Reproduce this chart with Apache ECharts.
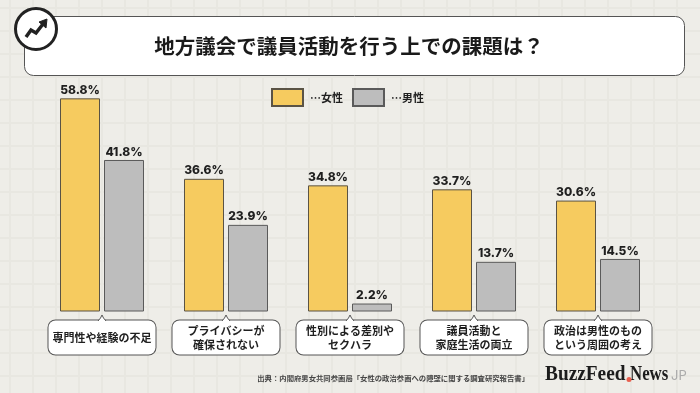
<!DOCTYPE html>
<html lang="ja">
<head>
  <meta charset="UTF-8">
  <title>地方議会で議員活動を行う上での課題は？</title>
  <script src="https://cdn.jsdelivr.net/npm/echarts@6/dist/echarts.min.js"></script>
  <style>
    html,body{margin:0;padding:0;background:#eeede8}
    #main{width:700px;height:393px}
  </style>
</head>
<body>
<div id="main"></div>
<script>
  var categories = ['専門性や経験の不足','プライバシーが\n確保されない','性別による差別や\nセクハラ','議員活動と\n家庭生活の両立','政治は男性のもの\nという周囲の考え'];
  var women = [58.8,36.6,34.8,33.7,30.6];
  var men = [41.8,23.9,2.2,13.7,14.5];
  var legendNames = ['…女性','…男性'];

  var font = '"Noto Sans CJK JP"';
  var ink = '#1f1f1f';
  var main = echarts.init(document.querySelector('#main'));

  function barLabel(){
    return {show:true,position:'top',distance:2,formatter:'{c}%',fontFamily:'Inter',fontWeight:800,fontSize:12,color:ink};
  }
  function labelStyle(lineHeight){
    return {fontFamily:font,fontWeight:'bold',fontSize:11,lineHeight:lineHeight,color:ink,align:'center'};
  }

  main.setOption({
    animation:false,
    backgroundColor:'transparent',
    grid:{left:40,right:40,top:94,bottom:81.5},
    xAxis:{
      type:'category',
      data:categories,
      axisLine:{show:false},
      axisTick:{show:false},
      axisLabel:{
        interval:0,margin:9,
        width:107,height:31,padding:[3,0,0,0],align:'center',verticalAlign:'top',overflow:'none',
        backgroundColor:'#fff',borderColor:'#555',borderWidth:1,borderRadius:7,
        formatter:function(value){
          var lines = value.split('\n');
          var key = lines.length>1 ? 'two' : 'one';
          return lines.map(function(t){return '{'+key+'|'+t+'}'}).join('\n');
        },
        rich:{one:labelStyle(29),two:labelStyle(14.5)}
      }
    },
    yAxis:{type:'value',min:0,max:60,show:false},
    series:[
      {name:legendNames[0],type:'bar',data:women,barWidth:40,barGap:'10%',
        itemStyle:{color:'#f6cb5f',borderColor:'#5a5345',borderWidth:1},label:barLabel()},
      {name:legendNames[1],type:'bar',data:men,barWidth:40,
        itemStyle:{color:'#bdbdbd',borderColor:'#5a5a5a',borderWidth:1},label:barLabel()}
    ],
    legend:{
      left:271,top:88,padding:0,icon:'rect',itemWidth:31,itemHeight:17,itemGap:9,
      data:legendNames,
      textStyle:{fontFamily:font,fontWeight:'bold',fontSize:11,color:ink,padding:[0,0,0,2]}
    }
  });

  // faint paper grid behind everything
  var paper = [];
  for(var x=10;x<700;x+=23){
    paper.push({type:'line',z:-10,silent:true,shape:{x1:x,y1:0,x2:x,y2:393},style:{stroke:'#e8e7e1',lineWidth:2}});
  }
  for(var y=8;y<393;y+=23){
    paper.push({type:'line',z:-10,silent:true,shape:{x1:0,y1:y,x2:700,y2:y},style:{stroke:'#e8e7e1',lineWidth:2}});
  }

  // little points on the label boxes, placed from the category scale
  var tips = categories.map(function(c,i){
    var px = main.convertToPixel({xAxisIndex:0},i);
    return {type:'polyline',z:100,silent:true,shape:{points:[[px-4,321],[px-1.5,318],[px,315],[px+1.5,318],[px+4,321]]},
      style:{fill:'#fff',stroke:'#555',lineWidth:1}};
  });

  var decor = [
    {type:'rect',z:1,shape:{x:24.5,y:16.5,width:660,height:59,r:9},style:{fill:'#fff',stroke:'#555',lineWidth:1}},
    {type:'text',z:2,style:{x:349,y:46,text:'地方議会で議員活動を行う上での課題は？',align:'center',verticalAlign:'middle',
      font:'bold 20.5px '+font,fill:'#1a1a1a'}},
    {type:'circle',z:3,shape:{cx:36,cy:29,r:20.5},style:{fill:'#fff',stroke:'#222',lineWidth:3}},
    {type:'polyline',z:4,shape:{points:[[26,37],[31,30],[36,33],[43,24]]},style:{stroke:'#222',lineWidth:3.5,fill:'none'}},
    {type:'polygon',z:4,shape:{points:[[39,22],[47,19],[46,28]]},style:{fill:'#222',stroke:'#222',lineWidth:1}},
    {type:'text',z:2,style:{x:529,y:378,text:'出典：内閣府男女共同参画局「女性の政治参画への障壁に関する調査研究報告書」',align:'right',verticalAlign:'middle',
      font:'bold 7.35px '+font,fill:'#444'}},
    {type:'text',z:2,x:545,y:375,scaleX:0.92,style:{x:0,y:0,text:'BuzzFeed',align:'left',verticalAlign:'middle',
      font:'bold 21px "Liberation Serif"',fill:'#1c1c1c'}},
    {type:'text',z:2,x:630,y:375,scaleX:0.8,style:{x:0,y:0,text:'News',align:'left',verticalAlign:'middle',
      font:'bold 21px "Liberation Serif"',fill:'#1c1c1c'}},
    {type:'circle',z:3,shape:{cx:629,cy:379.5,r:2.5},style:{fill:'#e8604f'}},
    {type:'text',z:2,style:{x:671,y:376.5,text:'JP',align:'left',verticalAlign:'middle',
      font:'13px Inter',fill:'#aaa'}}
  ];

  main.setOption({graphic:paper.concat(decor,tips)});
</script>
</body>
</html>
